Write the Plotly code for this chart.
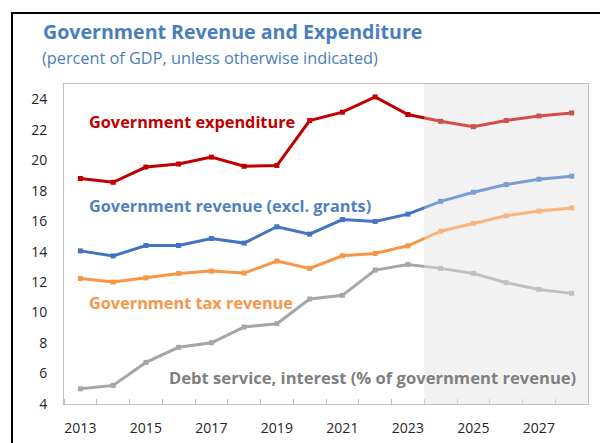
import plotly.graph_objects as go

years = list(range(2013, 2029))
expenditure = [18.8, 18.55, 19.55, 19.75, 20.2, 19.6, 19.65, 22.6, 23.15, 24.15, 23.0, 22.55, 22.2, 22.6, 22.9, 23.1]
revenue = [14.05, 13.72, 14.4, 14.4, 14.86, 14.56, 15.63, 15.15, 16.1, 15.98, 16.46, 17.3, 17.9, 18.4, 18.75, 18.95]
tax_revenue = [12.24, 12.0, 12.28, 12.57, 12.72, 12.59, 13.38, 12.9, 13.73, 13.88, 14.38, 15.34, 15.85, 16.35, 16.66, 16.87]
debt_service = [5.0, 5.22, 6.73, 7.72, 8.02, 9.05, 9.27, 10.89, 11.13, 12.79, 13.16, 12.9, 12.57, 11.96, 11.52, 11.26]

series_names = ["Government expenditure", "Government revenue (excl. grants)",
                "Government tax revenue", "Debt service, interest (% of government revenue)"]
line_colors = ["#C00000", "#4472C4", "#F79646", "#A6A6A6"]
label_colors = ["#C00000", "#4F81BD", "#F79646", "#808080"]
ytick_vals = list(range(4, 25, 2))
xtick_vals = list(range(2013, 2029, 2))
proj_start = 2023.5

FONT = "Open Sans"
fig = go.Figure()

for vals, name, col in zip([expenditure, revenue, tax_revenue, debt_service], series_names, line_colors):
    fig.add_trace(go.Scatter(x=years, y=vals, mode="lines+markers", name=name,
                             line=dict(color=col, width=3),
                             marker=dict(symbol="square", size=5, color=col),
                             showlegend=False, hoverinfo="x+y"))

# projection shading (below) and lightening overlay (above)
fig.add_shape(type="rect", xref="x", yref="paper", x0=proj_start, x1=2028.5, y0=0, y1=1,
              fillcolor="#ECECEC", line=dict(width=0), layer="below")
fig.add_shape(type="rect", xref="x", yref="paper", x0=proj_start, x1=2028.5, y0=0, y1=1,
              fillcolor="rgba(255,255,255,0.3)", line=dict(width=0), layer="above")

# outer frame
fig.add_shape(type="rect", xref="paper", yref="paper",
              x0=(12 - 64) / 524, x1=(610 - 64) / 524, y0=(404 - 460) / 320, y1=(404 - 13) / 320,
              line=dict(color="black", width=2), fillcolor="rgba(0,0,0,0)", layer="above")

# series labels
label_pos = [(2013.2, 22.5, 0, 16.3), (2013.2, 16.98, 1, 16.3), (2013.2, 10.64, 2, 16.3), (2015.65, 5.72, 3, 16.6)]
for (x, y, i, sz) in label_pos:
    fig.add_annotation(x=x, y=y, xref="x", yref="y", text="<b>%s</b>" % series_names[i],
                       showarrow=False, xanchor="left", yanchor="middle",
                       font=dict(family=FONT, size=sz, color=label_colors[i]))

# title and subtitle
fig.add_annotation(x=(41 - 64) / 524, y=(404 - 32) / 320, xref="paper", yref="paper",
                   text="<b>Government Revenue and Expenditure</b>", showarrow=False,
                   xanchor="left", yanchor="middle",
                   font=dict(family=FONT, size=19.6, color="#4A7EBB"))
fig.add_annotation(x=(40 - 64) / 524, y=(404 - 58) / 320, xref="paper", yref="paper",
                   text="(percent of GDP, unless otherwise indicated)", showarrow=False,
                   xanchor="left", yanchor="middle",
                   font=dict(family=FONT, size=16.3, color="#4A7EBB"))

fig.update_layout(
    width=600, height=443,
    margin=dict(l=64, r=12, t=84, b=39),
    paper_bgcolor="white", plot_bgcolor="white",
    font=dict(family=FONT, size=14, color="#262626"),
    xaxis=dict(range=[2012.5, 2028.5], tickvals=xtick_vals, ticktext=[str(v) for v in xtick_vals],
               ticks="", showgrid=False, zeroline=False, showline=True, linecolor="#BFBFBF",
               linewidth=1, mirror=True, ticklabelstandoff=11, automargin=False,
               minor=dict(ticks="inside", tickvals=[y + 0.5 for y in range(2012, 2028)],
                          ticklen=5, tickcolor="#BFBFBF", showgrid=False)),
    yaxis=dict(range=[4, 25], tickvals=ytick_vals, ticks="", showgrid=False, zeroline=False,
               showline=True, linecolor="#BFBFBF", linewidth=1, mirror=True, ticklabelstandoff=13,
               automargin=False),
)

fig.write_html("out.html", config={"displayModeBar": False},
               post_script="document.body.style.margin='0';document.body.style.overflow='hidden';")
